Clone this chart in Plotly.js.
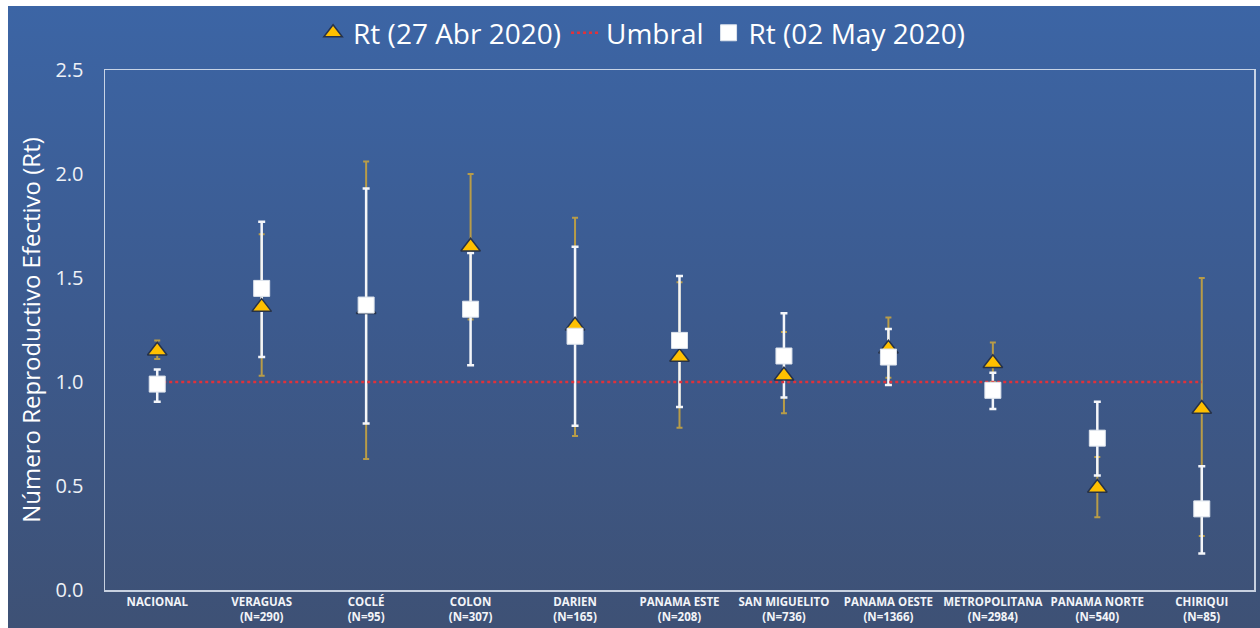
<!DOCTYPE html>
<html>
<head>
<meta charset="utf-8">
<script src="https://cdn.plot.ly/plotly-3.0.1.min.js"></script>
<style>
  html, body { margin: 0; padding: 0; background: #ffffff; width: 1260px; height: 628px; overflow: hidden; }
  #bg { position: absolute; left: 8px; top: 6px; width: 1252px; height: 622px;
        background: linear-gradient(to bottom, #3c65a5 0%, #3c5a8e 50%, #3e5175 100%); }
  #chart { position: absolute; left: 0; top: 0; width: 1260px; height: 628px; }
</style>
</head>
<body>
<div id="bg"></div>
<div id="chart"></div>
<script>
const categories = [
  "NACIONAL",
  "VERAGUAS<br>(N=290)",
  "COCLÉ<br>(N=95)",
  "COLON<br>(N=307)",
  "DARIEN<br>(N=165)",
  "PANAMA ESTE<br>(N=208)",
  "SAN MIGUELITO<br>(N=736)",
  "PANAMA OESTE<br>(N=1366)",
  "METROPOLITANA<br>(N=2984)",
  "PANAMA NORTE<br>(N=540)",
  "CHIRIQUI<br>(N=85)"
];
const rtAbr27      = [1.15, 1.36, 1.35, 1.65, 1.27, 1.12, 1.03, 1.16, 1.09, 0.49, 0.87];
const rtAbr27Low   = [1.11, 1.03, 0.63, 1.30, 0.74, 0.78, 0.85, 1.02, 1.00, 0.35, 0.26];
const rtAbr27High  = [1.20, 1.71, 2.06, 2.00, 1.79, 1.48, 1.24, 1.31, 1.19, 0.64, 1.50];
const rtMay02      = [0.99, 1.45, 1.37, 1.35, 1.22, 1.20, 1.125, 1.12, 0.96, 0.73, 0.39];
const rtMay02Low   = [0.905, 1.12, 0.80, 1.08, 0.79, 0.88, 0.925, 0.985, 0.87, 0.55, 0.175];
const rtMay02High  = [1.06, 1.77, 1.93, 1.62, 1.65, 1.51, 1.33, 1.255, 1.045, 0.905, 0.595];
const umbral       = [1, 1, 1, 1, 1, 1, 1, 1, 1, 1, 1];

const plus  = (v, hi) => v.map((x, i) => hi[i] - x);
const minus = (v, lo) => v.map((x, i) => x - lo[i]);

const gold = '#b89c48';
const traces = [
  { // gold error bars
    x: categories, y: rtAbr27, type: 'scatter', mode: 'markers',
    marker: { size: 1, color: 'rgba(0,0,0,0)' }, showlegend: false, hoverinfo: 'skip',
    error_y: { type: 'data', symmetric: false, array: plus(rtAbr27, rtAbr27High),
               arrayminus: minus(rtAbr27, rtAbr27Low), color: gold, thickness: 2, width: 3 }
  },
  { // white error bars
    x: categories, y: rtMay02, type: 'scatter', mode: 'markers',
    marker: { size: 1, color: 'rgba(0,0,0,0)' }, showlegend: false, hoverinfo: 'skip',
    error_y: { type: 'data', symmetric: false, array: plus(rtMay02, rtMay02High),
               arrayminus: minus(rtMay02, rtMay02Low), color: '#f4f6fa', thickness: 2.5, width: 3.5 }
  },
  {
    name: 'Umbral', x: categories, y: umbral, type: 'scatter', mode: 'lines',
    line: { color: '#e0323a', width: 2.5, dash: 'dot' }, legendrank: 2
  },
  {
    name: 'Rt (27 Abr 2020)', x: categories, y: rtAbr27, type: 'scatter', mode: 'markers',
    marker: { symbol: 'triangle-up', size: 17, color: '#ffc000', line: { color: '#26324a', width: 1.5 } },
    legendrank: 1
  },
  {
    name: 'Rt (02 May 2020)', x: categories, y: rtMay02, type: 'scatter', mode: 'markers',
    marker: { symbol: 'square', size: 16, color: '#ffffff', line: { color: '#dde3ec', width: 1 } },
    legendrank: 3
  }
];

const layout = {
  width: 1260, height: 628,
  paper_bgcolor: 'rgba(0,0,0,0)', plot_bgcolor: 'rgba(0,0,0,0)',
  margin: { l: 105, r: 6, t: 70, b: 38 },
  font: { family: 'Open Sans, sans-serif', color: '#ffffff' },
  showlegend: true,
  legend: {
    orientation: 'h', x: 0.467, xanchor: 'center', y: 1.071, yanchor: 'middle',
    font: { size: 28, color: '#ffffff' }, bgcolor: 'rgba(0,0,0,0)', traceorder: 'normal',
    itemwidth: 30
  },
  xaxis: {
    type: 'category', range: [-0.5, 10.5], showgrid: false, zeroline: false,
    showline: true, mirror: true, linecolor: 'rgba(225,232,242,0.85)', linewidth: 1.5,
    ticks: 'outside', ticklen: 1, tickcolor: 'rgba(0,0,0,0)',
    tickfont: { family: 'Open Sans, sans-serif', size: 11.5, color: '#f2f4f8', weight: 'bold' },
    fixedrange: true
  },
  yaxis: {
    range: [0, 2.5], dtick: 0.5, tickformat: '.1f', showgrid: false, zeroline: false,
    showline: true, mirror: true, linecolor: 'rgba(225,232,242,0.85)', linewidth: 1.5,
    ticks: 'outside', ticklen: 16, tickcolor: 'rgba(0,0,0,0)',
    tickfont: { size: 20, color: '#eef1f6' },
    title: { text: 'Número Reproductivo Efectivo (Rt)', font: { size: 24, color: '#ffffff' }, standoff: 8 },
    fixedrange: true
  }
};

Plotly.newPlot('chart', traces, layout, { displayModeBar: false, staticPlot: true });
</script>
</body>
</html>
